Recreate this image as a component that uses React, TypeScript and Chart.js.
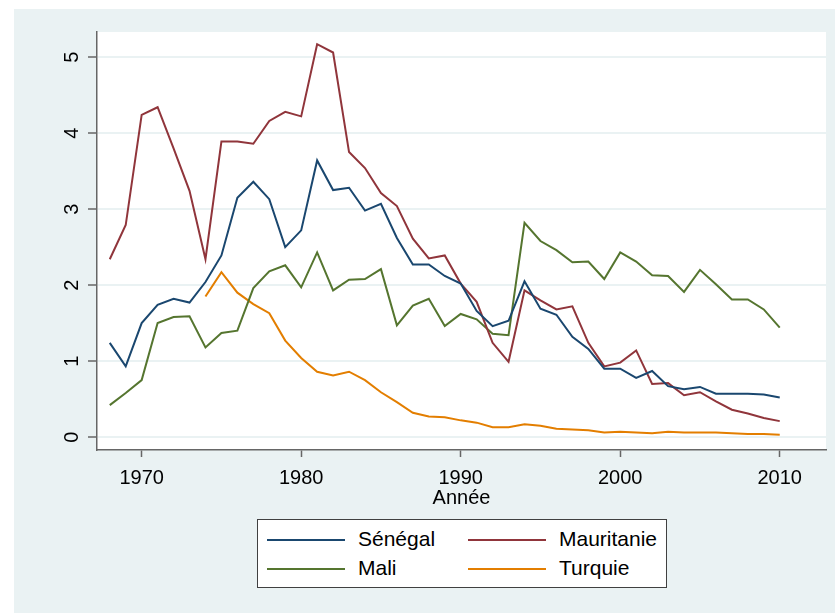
import React, { useEffect, useRef } from "react";
import { Chart, registerables } from "chart.js";

Chart.register(...registerables);

const years = [
  1968, 1969, 1970, 1971, 1972, 1973, 1974, 1975, 1976, 1977,
  1978, 1979, 1980, 1981, 1982, 1983, 1984, 1985, 1986, 1987,
  1988, 1989, 1990, 1991, 1992, 1993, 1994, 1995, 1996, 1997,
  1998, 1999, 2000, 2001, 2002, 2003, 2004, 2005, 2006, 2007,
  2008, 2009, 2010,
];

const senegal = [
  1.24, 0.93, 1.5, 1.74, 1.82, 1.77, 2.04, 2.39, 3.15, 3.36,
  3.13, 2.5, 2.72, 3.64, 3.25, 3.28, 2.98, 3.07, 2.62, 2.27,
  2.27, 2.12, 2.02, 1.66, 1.46, 1.53, 2.05, 1.69, 1.61, 1.32,
  1.16, 0.9, 0.9, 0.78, 0.87, 0.67, 0.63, 0.66, 0.57, 0.57,
  0.57, 0.56, 0.52,
];

const mauritanie = [
  2.34, 2.79, 4.24, 4.34, 3.8, 3.24, 2.34, 3.89, 3.89, 3.86,
  4.16, 4.28, 4.22, 5.17, 5.06, 3.75, 3.54, 3.21, 3.04, 2.61,
  2.35, 2.39, 2.02, 1.78, 1.24, 0.99, 1.93, 1.8, 1.68, 1.72,
  1.24, 0.93, 0.98, 1.14, 0.7, 0.71, 0.55, 0.59, 0.47, 0.36,
  0.31, 0.25, 0.21,
];

const mali = [
  0.42, 0.58, 0.75, 1.5, 1.58, 1.59, 1.18, 1.37, 1.4, 1.96,
  2.18, 2.26, 1.97, 2.43, 1.93, 2.07, 2.08, 2.21, 1.47, 1.73,
  1.82, 1.46, 1.62, 1.55, 1.36, 1.34, 2.82, 2.58, 2.46, 2.3,
  2.31, 2.08, 2.43, 2.31, 2.13, 2.12, 1.91, 2.2, 2.01, 1.81,
  1.81, 1.68, 1.44,
];

const turquie = [
  null, null, null, null, null, null, 1.85, 2.17, 1.9, 1.75,
  1.63, 1.27, 1.04, 0.86, 0.81, 0.86, 0.75, 0.59, 0.46, 0.32,
  0.27, 0.26, 0.22, 0.19, 0.13, 0.13, 0.17, 0.15, 0.11, 0.1,
  0.09, 0.06, 0.07, 0.06, 0.05, 0.07, 0.06, 0.06, 0.06, 0.05,
  0.04, 0.04, 0.03,
];

const xTicks = [1970, 1980, 1990, 2000, 2010];
const yTicks = [0, 1, 2, 3, 4, 5];

const seriesNames = ["Sénégal", "Mauritanie", "Mali", "Turquie"];
const seriesColors = ["#1A476F", "#90353B", "#55752F", "#E37E00"];
const seriesValues = [senegal, mauritanie, mali, turquie];

const FONT = "'Liberation Sans', Arial, Helvetica, sans-serif";
const BG = "#EAF2F3";

const plotBgPlugin = {
  id: "plotBg",
  beforeDraw(chart: any) {
    const { ctx, chartArea } = chart;
    ctx.save();
    ctx.fillStyle = "#FFFFFF";
    ctx.fillRect(
      chartArea.left,
      chartArea.top,
      chartArea.right - chartArea.left,
      chartArea.bottom - chartArea.top
    );
    ctx.restore();
  },
};

const yLabelPlugin = {
  id: "yLabels",
  afterDraw(chart: any) {
    const { ctx } = chart;
    const ys = chart.scales.y;
    ctx.save();
    ctx.fillStyle = "#000";
    ctx.font = `20px ${FONT}`;
    ctx.textAlign = "center";
    ctx.textBaseline = "middle";
    yTicks.forEach((v) => {
      const py = ys.getPixelForValue(v);
      ctx.save();
      ctx.translate(58, py);
      ctx.rotate(-Math.PI / 2);
      ctx.fillText(String(v), 0, 0);
      ctx.restore();
    });
    ctx.restore();
  },
};

export default function App() {
  const ref = useRef<HTMLCanvasElement | null>(null);

  useEffect(() => {
    if (!ref.current) return;
    const datasets = seriesNames.map((name, i) => ({
      label: name,
      data: years.map((yr, j) => ({ x: yr, y: seriesValues[i][j] })),
      borderColor: seriesColors[i],
      backgroundColor: seriesColors[i],
      borderWidth: 2,
      pointRadius: 0,
      tension: 0,
      spanGaps: false,
      fill: false,
    }));
    const chart = new Chart(ref.current, {
      type: "line",
      data: { datasets },
      options: {
        animation: false,
        responsive: false,
        maintainAspectRatio: false,
        layout: { padding: { top: 23, right: 9, left: 0, bottom: 0 } },
        plugins: {
          legend: { display: false },
          tooltip: { enabled: false },
        },
        scales: {
          x: {
            type: "linear",
            min: 1967.2,
            max: 2012.9,
            afterBuildTicks: (s: any) => {
              s.ticks = xTicks.map((v) => ({ value: v }));
            },
            afterFit: (s: any) => {
              s.height = 163;
            },
            border: { display: true, color: "#666", width: 1.5 },
            grid: {
              drawOnChartArea: false,
              drawTicks: true,
              tickLength: 7,
              tickColor: "#666",
              tickWidth: 1.5,
            },
            ticks: {
              color: "#000",
              font: { family: FONT, size: 20 },
              padding: 9,
              maxRotation: 0,
              minRotation: 0,
              callback: (v: any) => String(v),
            },
          },
          y: {
            type: "linear",
            min: -0.17,
            max: 5.33,
            afterBuildTicks: (s: any) => {
              s.ticks = yTicks.map((v) => ({ value: v }));
            },
            afterFit: (s: any) => {
              s.width = 83;
            },
            border: { display: true, color: "#666", width: 1.5 },
            grid: {
              color: BG,
              lineWidth: 2,
              drawTicks: true,
              tickLength: 9,
              tickColor: "#666",
              tickWidth: 1.5,
            },
            ticks: { display: false },
          },
        },
      },
      plugins: [plotBgPlugin, yLabelPlugin],
    });
    return () => chart.destroy();
  }, []);

  const legendRows = [
    [0, 1],
    [2, 3],
  ];

  return (
    <div
      style={{
        position: "absolute",
        left: 14,
        top: 9,
        width: 821,
        height: 604,
        background: BG,
        fontFamily: FONT,
      }}
    >
      <canvas
        ref={ref}
        width={821}
        height={604}
        style={{ width: 821, height: 604, display: "block" }}
      />
      <div
        style={{
          position: "absolute",
          left: 461.5 - 14,
          top: 497 - 9 - 12,
          height: 24,
          lineHeight: "24px",
          fontSize: 20,
          color: "#000",
          transform: "translateX(-50%)",
          whiteSpace: "nowrap",
        }}
      >
        Année
      </div>
      <div
        style={{
          position: "absolute",
          left: 257 - 14,
          top: 519 - 9,
          width: 410,
          height: 69,
          boxSizing: "border-box",
          border: "1px solid #404040",
          background: "#FFFFFF",
        }}
      >
        {legendRows.map((row, r) =>
          row.map((idx, c) => (
            <React.Fragment key={`${r}-${c}`}>
              <div
                style={{
                  position: "absolute",
                  left: (c === 0 ? 266 : 467) - 257,
                  top: (r === 0 ? 539 : 568) - 519 - 1,
                  width: 78,
                  height: 2,
                  background: seriesColors[idx],
                }}
              />
              <div
                style={{
                  position: "absolute",
                  left: (c === 0 ? 357 : 558) - 257,
                  top: (r === 0 ? 539 : 568) - 519 - 13,
                  height: 24,
                  lineHeight: "24px",
                  fontSize: 21,
                  color: "#000",
                  whiteSpace: "nowrap",
                }}
              >
                {seriesNames[idx]}
              </div>
            </React.Fragment>
          ))
        )}
      </div>
    </div>
  );
}
